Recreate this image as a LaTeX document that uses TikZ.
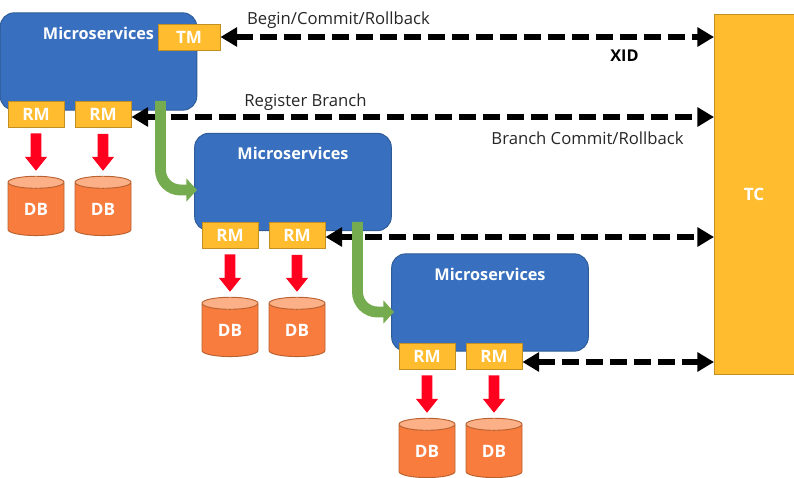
\documentclass[tikz,border=0pt]{standalone}
\usepackage{fontspec}
\setmainfont{Open Sans}[BoldFont={Open Sans Bold}]
\usetikzlibrary{arrows.meta,shapes.geometric,calc}
\definecolor{msblue}{HTML}{3870BF}
\definecolor{msedge}{HTML}{2F5C97}
\definecolor{tmfill}{HTML}{FFBC2E}
\definecolor{tmedge}{HTML}{C28F22}
\definecolor{dbbody}{HTML}{F87C3E}
\definecolor{dbtop}{HTML}{FBB088}
\definecolor{dbedge}{HTML}{B9602F}
\definecolor{flow}{HTML}{75AC50}
\tikzset{
  px/.style={x=0.75pt,y=-0.75pt},
  ms/.style={draw=msedge,line width=0.7pt,fill=msblue,rounded corners=10.5pt,minimum width=147.5pt,minimum height=73pt,inner sep=0pt},
  mstext/.style={text=white,font=\fontsize{12.2pt}{14pt}\selectfont\bfseries,inner sep=0pt},
  box/.style={draw=tmedge,line width=0.7pt,fill=tmfill,text=white,font=\fontsize{12.8pt}{14pt}\selectfont\bfseries,minimum width=42pt,minimum height=19.5pt,inner sep=0pt},
  dbcyl/.style={cylinder,shape border rotate=90,aspect=0.5,draw=dbedge,line width=0.7pt,cylinder uses custom fill,cylinder body fill=dbbody,cylinder end fill=dbtop,text=white,font=\fontsize{12.8pt}{14pt}\selectfont\bfseries,minimum width=42pt,minimum height=44.5pt,inner sep=0pt},
  writearrow/.style={line width=8.2pt,draw={rgb,255:red,255;green,0;blue,30},-{Triangle[length=10.5pt,width=16pt]}},
  dbl/.style={line width=4.3pt,black,dash pattern=on 12.5pt off 5.5pt,{Triangle[length=12.5pt,width=14pt]}-{Triangle[length=12.5pt,width=14pt]}},
  greenarrow/.style={line width=8.2pt,draw=flow,rounded corners=15pt,-{Triangle[length=8pt,width=17pt]}},
  lbl/.style={font=\fontsize{12.5pt}{14pt}\selectfont,text=black!85,inner sep=0pt},
  lblb/.style={font=\fontsize{12.2pt}{14pt}\selectfont\bfseries,text=black,inner sep=0pt}
}
\begin{document}
\begin{tikzpicture}[px]
\useasboundingbox (0,0) rectangle (794,478);
% TC
\node[box,minimum width=60pt,minimum height=270pt] (tc) at (754,194) {TC};
% Microservices blocks
\node[ms] (m1) at (98.5,61.5) {};
\node[ms] (m2) at (293,182) {};
\node[ms] (m3) at (490,302.5) {};
\node[mstext] (t1) at (98.5,33) {Microservices};
\node[mstext] (t2) at (293,153.5) {Microservices};
\node[mstext] (t3) at (490,274) {Microservices};
% Boxes
\node[box,minimum width=46.5pt] (tm) at (189,37) {TM};
\foreach \n/\x/\y in {a1/36/114,a2/103/114.5,b1/230/235,b2/297/235.5,c1/427/356,c2/494/356}
  \node[box] (\n) at (\x,\y) {RM};
\foreach \n/\x/\y in {da/36/206.5,db/103/206.5,dc/230/327.5,dd/297/327.5,de/427/448.5,df/494/448.5}
  \node[dbcyl,yshift=-2pt] (\n) at (\x,\y) {DB};
% RM to DB
\foreach \r/\d in {a1/da,a2/db,b1/dc,b2/dd,c1/de,c2/df}
  \draw[writearrow] ($(\r.south)+(0,6)$) -- ($(\d.north)+(0,-5)$);
% Dashed connectors
\coordinate (p1) at (714,37);
\coordinate (p2) at (714,117);
\coordinate (p3) at (714,237);
\coordinate (p4) at (714,362);
\draw[dbl] (tm.east) -- (p1);
\draw[dbl] (a2.east |- p2) -- (p2);
\draw[dbl] (b2.east |- p3) -- (p3);
\draw[dbl] (c2.east |- p4) -- (p4);
% Green flows
\coordinate (g1) at (160.5,101);
\coordinate (g1e) at (197,190);
\coordinate (g2) at (357.5,222);
\coordinate (g2e) at (394,312);
\draw[greenarrow] (g1) -- (g1 |- g1e) -- (g1e);
\draw[greenarrow] (g2) -- (g2 |- g2e) -- (g2e);
% Labels
\node[lbl] (l1) at (338.5,20) {Begin/Commit/Rollback};
\node[lbl] (l2) at (305.5,102) {Register Branch};
\node[lbl] (l3) at (587.5,138) {Branch Commit/Rollback};
\node[lblb] (l4) at (624.5,56) {XID};
\end{tikzpicture}
\end{document}
